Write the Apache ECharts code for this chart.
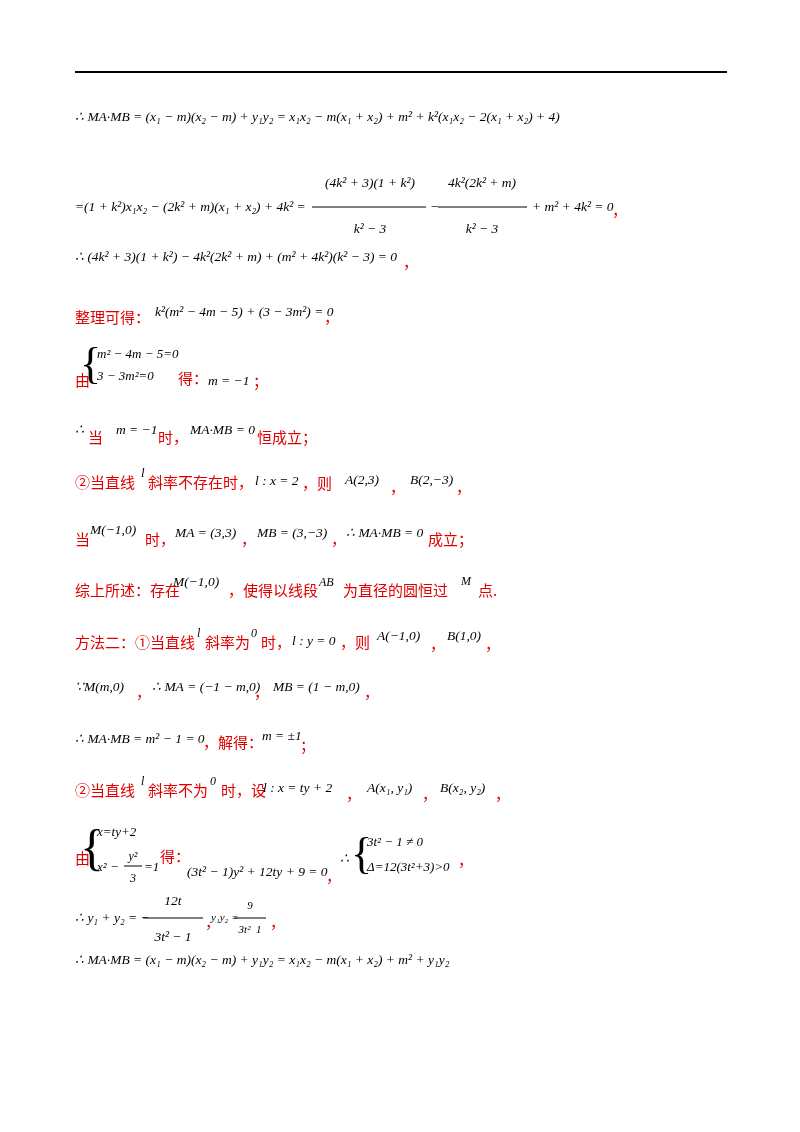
<!DOCTYPE html>
<html><head><meta charset="utf-8">
<script src="https://cdn.jsdelivr.net/npm/echarts@6/dist/echarts.min.js"></script>
<style>html,body{margin:0;background:#fff}#c{width:800px;height:1132px}</style>
</head><body><div id="c"></div>
<script>
const R='#e00000', K='#000';
// text runs: [text, x, y, colour, size, align]
const line1=[["∴ MA·MB = (x₁ − m)(x₂ − m) + y₁y₂ = x₁x₂ − m(x₁ + x₂) + m² + k²(x₁x₂ − 2(x₁ + x₂) + 4)",75,117,K,13.5]];
const line2=[["=(1 + k²)x₁x₂ − (2k² + m)(x₁ + x₂) + 4k² =",75,207,K,13.5],["(4k² + 3)(1 + k²)",370,183,K,13.5,'center'],["k² − 3",370,229,K,13.5,'center'],["−",430,207,K,13.5],["4k²(2k² + m)",482,183,K,13.5,'center'],["k² − 3",482,229,K,13.5,'center'],["+ m² + 4k² = 0",532,207,K,13.5],["，",612,210,R,15]];
const fracs=[[312,426,207],[438,527,207],[143,203,918],[234,266,918],[124,142,866]];
const line3=[["∴ (4k² + 3)(1 + k²) − 4k²(2k² + m) + (m² + 4k²)(k² − 3) = 0",75,257,K,13.5],["，",403,262,R,15]];
const line4=[["整理可得：",75,317,R,15],["k²(m² − 4m − 5) + (3 − 3m²) = 0",155,312,K,13.5],["，",324,317,R,15]];
const line5=[["m² − 4m − 5=0",97,355,K,13],["3 − 3m²=0",97,377,K,13],["由",75,380,R,15],["得：",178,378,R,15],["m = −1",208,381,K,13.5],["；",253,381,R,15]];
const line6=[["∴",75,430,K,14],["当",88,437,R,15],["m = −1",116,430,K,13.5],["时，",158,437,R,15],["MA·MB = 0",190,430,K,13.5],["恒成立；",257,437,R,15]];
const line7=[["②当直线",75,482,R,15],["l",141,474,K,13],["斜率不存在时，",148,482,R,15],["l : x = 2",255,481,K,13.5],["，则",302,483,R,15],["A(2,3)",345,480,K,13.5],["，",390,487,R,15],["B(2,−3)",410,480,K,13.5],["，",456,487,R,15]];
const line8=[["当",75,539,R,15],["M(−1,0)",90,530,K,13.5],["时，",145,539,R,15],["MA = (3,3)",175,533,K,13.5],["，",241,539,R,15],["MB = (3,−3)",257,533,K,13.5],["，",331,539,R,15],["∴ MA·MB = 0",346,533,K,13.5],["成立；",428,539,R,15]];
const line9=[["综上所述：存在",75,590,R,15],["M(−1,0)",173,582,K,13.5],["，使得以线段",228,590,R,15],["AB",319,583,K,12],["为直径的圆恒过",343,590,R,15],["M",461,582,K,12],["点.",478,590,R,15]];
const line10=[["方法二：①当直线",75,642,R,15],["l",197,634,K,12],["斜率为",205,642,R,15],["0",251,634,K,12],["时，",261,642,R,15],["l : y = 0",292,641,K,13.5],["，则",340,642,R,15],["A(−1,0)",377,636,K,13.5],["，",430,644,R,15],["B(1,0)",447,636,K,13.5],["，",485,644,R,15]];
const line11=[["∵M(m,0)",75,687,K,13.5],["，",136,692,R,15],["∴ MA = (−1 − m,0)",152,687,K,13.5],["，",254,692,R,15],["MB = (1 − m,0)",273,687,K,13.5],["，",364,692,R,15]];
const line12=[["∴ MA·MB = m² − 1 = 0",75,739,K,13.5],["，解得：",203,742,R,15],["m = ±1",262,736,K,13.5],["；",300,745,R,15]];
const line13=[["②当直线",75,790,R,15],["l",141,782,K,12],["斜率不为",148,790,R,15],["0",210,782,K,12],["时，设",221,790,R,15],["l : x = ty + 2",263,788,K,13.5],["，",346,794,R,15],["A(x₁, y₁)",367,788,K,13.5],["，",422,794,R,15],["B(x₂, y₂)",440,788,K,13.5],["，",495,794,R,15]];
const line14=[["x=ty+2",97,833,K,13],["x² −",97,868,K,13],["y²",133,857,K,12,'center'],["3",133,879,K,12,'center'],["=1",144,868,K,13],["由",75,858,R,15],["得：",160,856,R,15],["(3t² − 1)y² + 12ty + 9 = 0",187,872,K,13.5],["，",326,876,R,15],["∴",340,859,K,14],["3t² − 1 ≠ 0",367,843,K,13],["Δ=12(3t²+3)>0",367,868,K,13],["，",458,860,R,15]];
const line15=[["∴ y₁ + y₂ = −",75,918,K,13.5],["12t",173,901,K,13.5,'center'],["3t² − 1",173,937,K,13.5,'center'],["，",205,922,R,15],["y₁y₂ =",211,918,K,11],["9",250,906,K,11,'center'],["3t²  1",250,930,K,11,'center'],["，",270,922,R,15]];
const line16=[["∴ MA·MB = (x₁ − m)(x₂ − m) + y₁y₂ = x₁x₂ − m(x₁ + x₂) + m² + y₁y₂",75,960,K,13.5]];
const braces=[[80,366,44],[80,851,50],[351,856,44]];
const runs=[].concat(line1,line2,line3,line4,line5,line6,line7,line8,line9,line10,line11,line12,line13,line14,line15,line16);
const g=[{type:'line',shape:{x1:75,y1:72,x2:727,y2:72},style:{stroke:'#000',lineWidth:2}}];
runs.forEach(r=>{const cjk=r[3]===R;
 g.push({type:'text',x:r[1],y:r[2],style:{text:r[0],fill:r[3],verticalAlign:'middle',align:r[5]||'left',
 font:(cjk?'':'italic ')+r[4]+'px '+(cjk?'"Noto Sans CJK SC"':'"Liberation Serif"')}});});
fracs.forEach(f=>g.push({type:'line',shape:{x1:f[0],y1:f[2],x2:f[1],y2:f[2]},style:{stroke:'#000',lineWidth:1}}));
braces.forEach(b=>g.push({type:'text',x:b[0],y:b[1],style:{text:'{',fill:'#000',verticalAlign:'middle',font:b[2]+'px "Liberation Serif"'}}));
const ch=echarts.init(document.getElementById('c'));
ch.setOption({animation:false,backgroundColor:'#fff',graphic:g});
</script></body></html>
